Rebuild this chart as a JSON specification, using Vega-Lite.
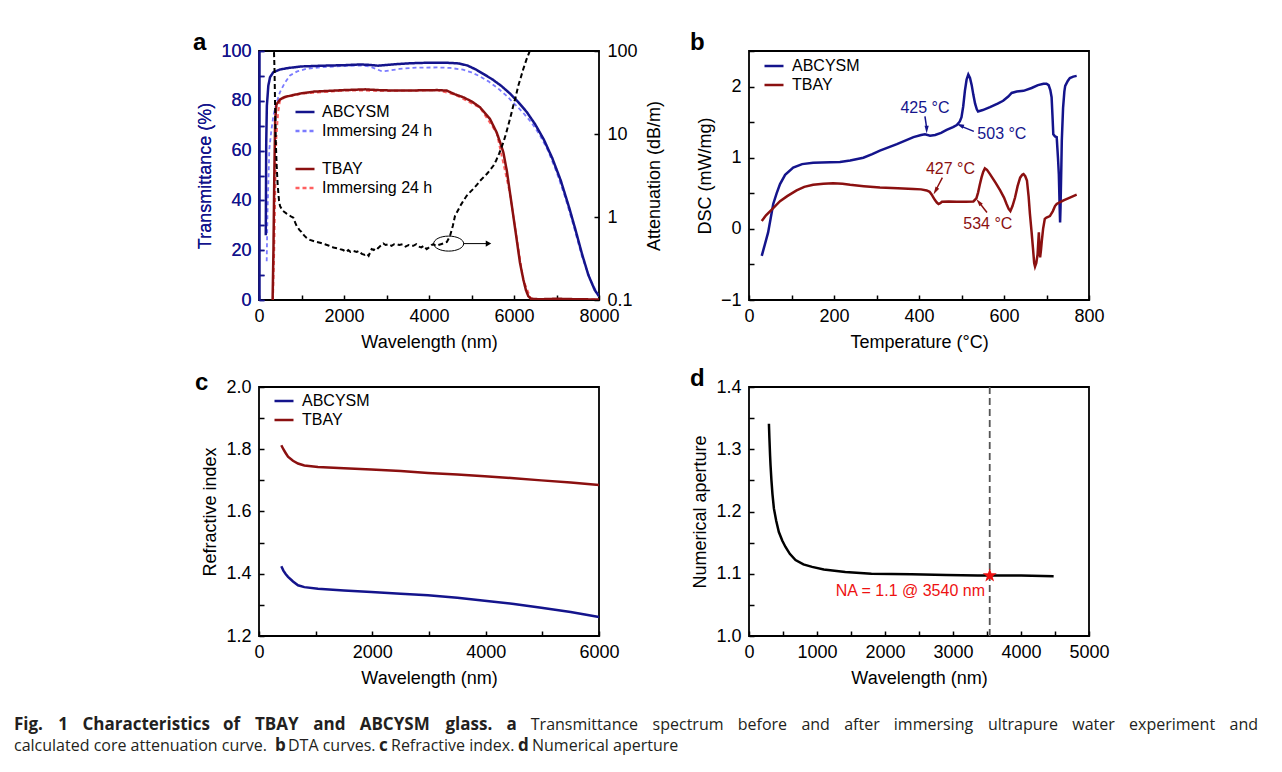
{
"$schema": "https://vega.github.io/schema/vega-lite/v6.json",
"padding": {"left": 14, "top": 30, "right": 5, "bottom": 5},
"background": "white",
"config": {
  "font": "Liberation Sans",
  "view": {"stroke": "black", "strokeWidth": 1.8},
  "axis": {"grid": false, "domain": false, "ticks": true, "tickSize": -5, "tickWidth": 1.5, "tickColor": "black", "labelFlush": false, "labelOverlap": false, "labelFont": "Liberation Sans", "labelFontSize": 18, "labelColor": "black", "titleFont": "Liberation Sans", "titleFontSize": 18, "titleFontWeight": "normal", "titleColor": "black", "titlePadding": 6},
  "axisX": {"labelPadding": 12, "titlePadding": 8},
  "axisY": {"labelPadding": 13},
  "legend": {"orient": "none", "symbolType": "stroke", "symbolSize": 361, "symbolStrokeWidth": 2.5, "labelFont": "Liberation Sans", "labelFontSize": 16, "labelColor": "black", "rowPadding": 0, "padding": 0, "labelOffset": 7},
  "title": {"font": "Liberation Sans", "fontSize": 24, "fontWeight": "bold", "anchor": "start", "frame": "group", "baseline": "alphabetic", "color": "black"},
  "line": {"strokeWidth": 2.5, "strokeCap": "butt"},
  "text": {"font": "Liberation Sans", "fontSize": 16}
},
"columns": 2,
"spacing": {"row": 87, "column": 150},
"bounds": "flush",
"resolve": {"scale": {"color": "independent", "strokeDash": "independent", "shape": "independent"}, "legend": {"color": "independent", "strokeDash": "independent", "shape": "independent"}},
"concat": [
 {
  "width": 340, "height": 249,
  "title": {"text": "a", "dx": -66, "offset": -13},
  "encoding": {"x": {"field": "w", "type": "quantitative", "scale": {"domain": [0, 8000], "nice": false, "zero": false}, "axis": {"title": "Wavelength (nm)", "values": [0,1000,2000,3000,4000,5000,6000,7000,8000], "format": "d", "labelExpr": "datum.value % 2000 == 0 ? datum.label : ''"}}},
  "layer": [
   {
    "data": {"values": [
{"s":"ABCYSM-i","w":181,"t":15.6},{"s":"ABCYSM-i","w":200,"t":35},{"s":"ABCYSM-i","w":243,"t":60.6},{"s":"ABCYSM-i","w":290,"t":68},{"s":"ABCYSM-i","w":338,"t":74},{"s":"ABCYSM-i","w":400,"t":78.5},{"s":"ABCYSM-i","w":494,"t":83.5},{"s":"ABCYSM-i","w":600,"t":87},{"s":"ABCYSM-i","w":729,"t":90.2},{"s":"ABCYSM-i","w":900,"t":91.8},{"s":"ABCYSM-i","w":1122,"t":92.9},{"s":"ABCYSM-i","w":1500,"t":93.5},{"s":"ABCYSM-i","w":2000,"t":94},{"s":"ABCYSM-i","w":2400,"t":94.2},{"s":"ABCYSM-i","w":2600,"t":93.8},{"s":"ABCYSM-i","w":2750,"t":92.8},{"s":"ABCYSM-i","w":2900,"t":91.8},{"s":"ABCYSM-i","w":3050,"t":92.1},{"s":"ABCYSM-i","w":3300,"t":92.8},{"s":"ABCYSM-i","w":3700,"t":93.3},{"s":"ABCYSM-i","w":4200,"t":93.4},{"s":"ABCYSM-i","w":4500,"t":93.2},{"s":"ABCYSM-i","w":4800,"t":92.5},{"s":"ABCYSM-i","w":5000,"t":91.4},{"s":"ABCYSM-i","w":5200,"t":89.8},{"s":"ABCYSM-i","w":5400,"t":87.8},{"s":"ABCYSM-i","w":5600,"t":85.3},{"s":"ABCYSM-i","w":5800,"t":82.4},{"s":"ABCYSM-i","w":6000,"t":79},{"s":"ABCYSM-i","w":6200,"t":75.5},{"s":"ABCYSM-i","w":6400,"t":71.5},{"s":"ABCYSM-i","w":6600,"t":66.5},{"s":"ABCYSM-i","w":6800,"t":60},{"s":"ABCYSM-i","w":7000,"t":51.5},{"s":"ABCYSM-i","w":7200,"t":41.5},{"s":"ABCYSM-i","w":7400,"t":30},{"s":"ABCYSM-i","w":7600,"t":17.5},{"s":"ABCYSM-i","w":7800,"t":8},{"s":"ABCYSM-i","w":7950,"t":3},{"s":"ABCYSM-i","w":8000,"t":1.5},
{"s":"TBAY-i","w":330,"t":0},{"s":"TBAY-i","w":360,"t":20},{"s":"TBAY-i","w":390,"t":50},{"s":"TBAY-i","w":410,"t":65},{"s":"TBAY-i","w":450,"t":75},{"s":"TBAY-i","w":494,"t":80},{"s":"TBAY-i","w":600,"t":81.3},{"s":"TBAY-i","w":1000,"t":82.8},{"s":"TBAY-i","w":2000,"t":84.1},{"s":"TBAY-i","w":3000,"t":84},{"s":"TBAY-i","w":4200,"t":84.2},{"s":"TBAY-i","w":4600,"t":82.5},{"s":"TBAY-i","w":5200,"t":77.2},{"s":"TBAY-i","w":5592,"t":67},{"s":"TBAY-i","w":5906,"t":42.5},{"s":"TBAY-i","w":6220,"t":8},{"s":"TBAY-i","w":6400,"t":0.5},{"s":"TBAY-i","w":8000,"t":0.2}
    ]},
    "mark": {"type": "line", "strokeWidth": 1.8, "clip": true},
    "encoding": {
      "y": {"field": "t", "type": "quantitative", "scale": {"domain": [0, 100], "nice": false}, "axis": {"orient": "left", "title": "Transmittance (%)", "values": [0,10,20,30,40,50,60,70,80,90,100], "format": "d", "labelExpr": "datum.value % 20 == 0 ? datum.label : ''", "labelColor": "#14148c", "tickColor": "#14148c", "titleColor": "#14148c", "domain": true, "domainColor": "#14148c", "domainWidth": 2, "zindex": 1}},
      "color": {"field": "s", "type": "nominal", "scale": {"domain": ["ABCYSM", "ABCYSM-i", "gap", "TBAY", "TBAY-i"], "range": ["#14148c", "#7b7bff", "transparent", "#8b1010", "#ff6060"]}, "legend": {"title": null, "legendX": 35, "legendY": 50, "labelOffset": 6, "labelExpr": "datum.value == 'gap' ? '' : (datum.value == 'ABCYSM-i' || datum.value == 'TBAY-i') ? 'Immersing 24 h' : datum.value", "encode": {"labels": {"update": {"fill": {"signal": "datum.value == 'ABCYSM' ? '#14148c' : datum.value == 'ABCYSM-i' ? '#7b7bff' : datum.value == 'TBAY' ? '#8b1010' : '#ff6060'"}}}, "symbols": {"update": {"strokeDash": {"signal": "(datum.value == 'ABCYSM-i' || datum.value == 'TBAY-i') ? [4, 3] : [1, 0]"}}}}}},
      "strokeDash": {"field": "s", "type": "nominal", "scale": {"domain": ["ABCYSM", "ABCYSM-i", "gap", "TBAY", "TBAY-i"], "range": [[1, 0], [4, 3], [1, 0], [1, 0], [4, 3]]}, "legend": null}
    }
   },
   {
    "data": {"values": [
{"s":"ABCYSM","w":160,"t":26},{"s":"ABCYSM","w":165,"t":45},{"s":"ABCYSM","w":170,"t":63},{"s":"ABCYSM","w":185,"t":78},{"s":"ABCYSM","w":219,"t":86},{"s":"ABCYSM","w":260,"t":89.5},{"s":"ABCYSM","w":338,"t":91.5},{"s":"ABCYSM","w":500,"t":92.6},{"s":"ABCYSM","w":700,"t":93.2},{"s":"ABCYSM","w":1000,"t":93.8},{"s":"ABCYSM","w":1500,"t":94.1},{"s":"ABCYSM","w":2000,"t":94.3},{"s":"ABCYSM","w":2400,"t":94.6},{"s":"ABCYSM","w":2600,"t":94.4},{"s":"ABCYSM","w":2800,"t":94.1},{"s":"ABCYSM","w":3000,"t":94.4},{"s":"ABCYSM","w":3300,"t":94.8},{"s":"ABCYSM","w":3600,"t":95.1},{"s":"ABCYSM","w":4000,"t":95.3},{"s":"ABCYSM","w":4400,"t":95.3},{"s":"ABCYSM","w":4700,"t":95},{"s":"ABCYSM","w":4900,"t":94.2},{"s":"ABCYSM","w":5100,"t":92.6},{"s":"ABCYSM","w":5300,"t":90.6},{"s":"ABCYSM","w":5500,"t":88.5},{"s":"ABCYSM","w":5700,"t":86},{"s":"ABCYSM","w":5900,"t":83},{"s":"ABCYSM","w":6100,"t":79.5},{"s":"ABCYSM","w":6300,"t":75.5},{"s":"ABCYSM","w":6500,"t":70.5},{"s":"ABCYSM","w":6700,"t":64.5},{"s":"ABCYSM","w":6900,"t":57},{"s":"ABCYSM","w":7100,"t":48},{"s":"ABCYSM","w":7300,"t":37},{"s":"ABCYSM","w":7450,"t":28},{"s":"ABCYSM","w":7600,"t":18.5},{"s":"ABCYSM","w":7750,"t":10},{"s":"ABCYSM","w":7900,"t":4},{"s":"ABCYSM","w":8000,"t":1.5},
{"s":"TBAY","w":320,"t":0},{"s":"TBAY","w":340,"t":20},{"s":"TBAY","w":360,"t":50},{"s":"TBAY","w":380,"t":72},{"s":"TBAY","w":410,"t":78.5},{"s":"TBAY","w":494,"t":80.5},{"s":"TBAY","w":600,"t":81.5},{"s":"TBAY","w":800,"t":82.3},{"s":"TBAY","w":1000,"t":83},{"s":"TBAY","w":1300,"t":83.7},{"s":"TBAY","w":2000,"t":84.3},{"s":"TBAY","w":2500,"t":84.6},{"s":"TBAY","w":2800,"t":84.3},{"s":"TBAY","w":3200,"t":84.1},{"s":"TBAY","w":3800,"t":84.2},{"s":"TBAY","w":4200,"t":84.3},{"s":"TBAY","w":4416,"t":84.1},{"s":"TBAY","w":4600,"t":82.7},{"s":"TBAY","w":4808,"t":81.4},{"s":"TBAY","w":5000,"t":79.8},{"s":"TBAY","w":5200,"t":77.4},{"s":"TBAY","w":5435,"t":72.7},{"s":"TBAY","w":5592,"t":67.3},{"s":"TBAY","w":5680,"t":63},{"s":"TBAY","w":5749,"t":59.3},{"s":"TBAY","w":5830,"t":52},{"s":"TBAY","w":5906,"t":43},{"s":"TBAY","w":5990,"t":33},{"s":"TBAY","w":6063,"t":24.3},{"s":"TBAY","w":6140,"t":15},{"s":"TBAY","w":6220,"t":8.2},{"s":"TBAY","w":6280,"t":4},{"s":"TBAY","w":6337,"t":1.5},{"s":"TBAY","w":6400,"t":0.5},{"s":"TBAY","w":6600,"t":0.3},{"s":"TBAY","w":7000,"t":0.5},{"s":"TBAY","w":7500,"t":0.3},{"s":"TBAY","w":8000,"t":0.2}
    ]},
    "mark": {"type": "line", "strokeWidth": 2.5, "clip": true},
    "encoding": {
      "y": {"field": "t", "type": "quantitative", "scale": {"domain": [0, 100], "nice": false}, "axis": {"orient": "left", "title": "Transmittance (%)", "values": [0,10,20,30,40,50,60,70,80,90,100], "format": "d", "labelExpr": "datum.value % 20 == 0 ? datum.label : ''", "labelColor": "#14148c", "tickColor": "#14148c", "titleColor": "#14148c", "domain": true, "domainColor": "#14148c", "domainWidth": 2, "zindex": 1}},
      "color": {"field": "s", "type": "nominal", "scale": {"domain": ["ABCYSM", "ABCYSM-i", "gap", "TBAY", "TBAY-i"], "range": ["#14148c", "#7b7bff", "transparent", "#8b1010", "#ff6060"]}, "legend": null},
      "strokeDash": {"field": "s", "type": "nominal", "scale": {"domain": ["ABCYSM", "ABCYSM-i", "gap", "TBAY", "TBAY-i"], "range": [[1, 0], [4, 3], [1, 0], [1, 0], [4, 3]]}, "legend": null}
    }
   },
   {
    "encoding": {"y": {"field": "a", "type": "quantitative", "scale": {"type": "log", "domain": [0.1, 100], "nice": false}, "axis": {"orient": "right", "title": "Attenuation (dB/m)", "titleAngle": 270, "titleBaseline": "top", "titlePadding": 8, "values": [0.1, 1, 10, 100], "format": "~g"}}},
    "layer": [
     {
      "data": {"values": [
{"w":353,"a":97},{"w":365,"a":60},{"w":380,"a":20},{"w":395,"a":8},{"w":416,"a":4.14},{"w":440,"a":2.4},{"w":470,"a":1.6},{"w":494,"a":1.36},{"w":550,"a":1.2},{"w":650,"a":1.1},{"w":750,"a":1.02},{"w":808,"a":0.98},{"w":850,"a":0.86},{"w":886,"a":0.78},{"w":950,"a":0.7},{"w":1000,"a":0.66},{"w":1060,"a":0.6},{"w":1122,"a":0.56},{"w":1200,"a":0.53},{"w":1300,"a":0.51},{"w":1435,"a":0.49},{"w":1550,"a":0.47},{"w":1650,"a":0.45},{"w":1750,"a":0.43},{"w":1850,"a":0.42},{"w":1906,"a":0.41},{"w":1980,"a":0.4},{"w":2050,"a":0.38},{"w":2100,"a":0.4},{"w":2150,"a":0.38},{"w":2220,"a":0.39},{"w":2300,"a":0.38},{"w":2350,"a":0.39},{"w":2420,"a":0.36},{"w":2494,"a":0.35},{"w":2540,"a":0.36},{"w":2580,"a":0.34},{"w":2620,"a":0.38},{"w":2651,"a":0.41},{"w":2700,"a":0.4},{"w":2760,"a":0.43},{"w":2800,"a":0.42},{"w":2860,"a":0.45},{"w":2925,"a":0.48},{"w":2980,"a":0.46},{"w":3050,"a":0.47},{"w":3120,"a":0.45},{"w":3180,"a":0.47},{"w":3240,"a":0.47},{"w":3300,"a":0.46},{"w":3380,"a":0.47},{"w":3450,"a":0.44},{"w":3520,"a":0.46},{"w":3580,"a":0.45},{"w":3631,"a":0.45},{"w":3700,"a":0.47},{"w":3760,"a":0.44},{"w":3820,"a":0.43},{"w":3880,"a":0.45},{"w":3945,"a":0.41},{"w":4000,"a":0.43},{"w":4060,"a":0.46},{"w":4102,"a":0.47},{"w":4160,"a":0.45},{"w":4220,"a":0.46},{"w":4280,"a":0.47},{"w":4337,"a":0.48},{"w":4420,"a":0.5},{"w":4494,"a":0.59},{"w":4560,"a":0.78},{"w":4612,"a":1.03},{"w":4680,"a":1.2},{"w":4750,"a":1.4},{"w":4820,"a":1.6},{"w":4886,"a":1.8},{"w":4960,"a":1.98},{"w":5050,"a":2.2},{"w":5130,"a":2.45},{"w":5200,"a":2.72},{"w":5280,"a":3.0},{"w":5360,"a":3.3},{"w":5440,"a":3.7},{"w":5514,"a":4.14},{"w":5580,"a":4.8},{"w":5650,"a":5.8},{"w":5700,"a":6.8},{"w":5749,"a":7.9},{"w":5810,"a":10},{"w":5870,"a":13},{"w":5930,"a":17},{"w":5984,"a":22},{"w":6040,"a":28},{"w":6100,"a":38},{"w":6160,"a":48},{"w":6220,"a":61},{"w":6290,"a":78},{"w":6361,"a":97},{"w":6420,"a":130}
      ]},
      "mark": {"type": "line", "color": "black", "strokeWidth": 2, "strokeDash": [5, 3], "clip": true}
     },
     {
      "data": {"values": [{"w": 4463, "a": 0.478}]},
      "mark": {"type": "point", "shape": "M-1,0A1,0.5 0 1,0 1,0A1,0.5 0 1,0 -1,0Z", "size": 900, "filled": false, "color": "black", "strokeWidth": 1, "opacity": 1}
     },
     {
      "data": {"values": [{"w": 4808, "w2": 5380, "a": 0.478}]},
      "mark": {"type": "rule", "color": "black", "strokeWidth": 1},
      "encoding": {"x2": {"field": "w2"}}
     },
     {
      "data": {"values": [{"w": 5400, "a": 0.478}]},
      "mark": {"type": "point", "shape": "triangle-right", "size": 40, "filled": true, "color": "black", "opacity": 1}
     }
    ]
   }
  ],
  "resolve": {"scale": {"y": "independent"}, "axis": {"y": "independent"}}
 },
 {
  "width": 340, "height": 249,
  "title": {"text": "b", "dx": -59, "offset": -13},
  "encoding": {
    "x": {"field": "T", "type": "quantitative", "scale": {"domain": [0, 800], "nice": false, "zero": false}, "axis": {"title": "Temperature (°C)", "values": [0,100,200,300,400,500,600,700,800], "format": "d", "labelExpr": "datum.value % 200 == 0 ? datum.label : ''"}},
    "y": {"field": "v", "type": "quantitative", "scale": {"domain": [-1, 2.5], "nice": false}, "axis": {"title": "DSC (mW/mg)", "values": [-1,-0.5,0,0.5,1,1.5,2,2.5], "format": ".0f", "labelExpr": "round(datum.value*2) % 2 == 0 ? datum.label : ''"}}
  },
  "layer": [
   {
    "data": {"values": [
{"s":"ABCYSM","T":30,"v":-0.38},{"s":"ABCYSM","T":45,"v":-0.05},{"s":"ABCYSM","T":57,"v":0.35},{"s":"ABCYSM","T":65,"v":0.5},{"s":"ABCYSM","T":73,"v":0.63},{"s":"ABCYSM","T":85,"v":0.76},{"s":"ABCYSM","T":104,"v":0.86},{"s":"ABCYSM","T":125,"v":0.91},{"s":"ABCYSM","T":151,"v":0.93},{"s":"ABCYSM","T":191,"v":0.935},{"s":"ABCYSM","T":214,"v":0.94},{"s":"ABCYSM","T":238,"v":0.96},{"s":"ABCYSM","T":269,"v":1.0},{"s":"ABCYSM","T":290,"v":1.05},{"s":"ABCYSM","T":308,"v":1.1},{"s":"ABCYSM","T":348,"v":1.19},{"s":"ABCYSM","T":387,"v":1.29},{"s":"ABCYSM","T":405,"v":1.32},{"s":"ABCYSM","T":414,"v":1.33},{"s":"ABCYSM","T":426,"v":1.31},{"s":"ABCYSM","T":438,"v":1.32},{"s":"ABCYSM","T":452,"v":1.35},{"s":"ABCYSM","T":465,"v":1.39},{"s":"ABCYSM","T":480,"v":1.43},{"s":"ABCYSM","T":489,"v":1.46},{"s":"ABCYSM","T":496,"v":1.51},{"s":"ABCYSM","T":500,"v":1.57},{"s":"ABCYSM","T":504,"v":1.72},{"s":"ABCYSM","T":508,"v":1.94},{"s":"ABCYSM","T":512,"v":2.1},{"s":"ABCYSM","T":516,"v":2.17},{"s":"ABCYSM","T":520,"v":2.12},{"s":"ABCYSM","T":524,"v":2.02},{"s":"ABCYSM","T":528,"v":1.88},{"s":"ABCYSM","T":532,"v":1.76},{"s":"ABCYSM","T":536,"v":1.68},{"s":"ABCYSM","T":539,"v":1.65},{"s":"ABCYSM","T":550,"v":1.67},{"s":"ABCYSM","T":567,"v":1.71},{"s":"ABCYSM","T":585,"v":1.76},{"s":"ABCYSM","T":598,"v":1.8},{"s":"ABCYSM","T":610,"v":1.86},{"s":"ABCYSM","T":618,"v":1.91},{"s":"ABCYSM","T":630,"v":1.93},{"s":"ABCYSM","T":646,"v":1.94},{"s":"ABCYSM","T":665,"v":1.98},{"s":"ABCYSM","T":680,"v":2.02},{"s":"ABCYSM","T":693,"v":2.04},{"s":"ABCYSM","T":700,"v":2.04},{"s":"ABCYSM","T":705,"v":2.02},{"s":"ABCYSM","T":709,"v":1.95},{"s":"ABCYSM","T":712,"v":1.85},{"s":"ABCYSM","T":714,"v":1.6},{"s":"ABCYSM","T":716,"v":1.33},{"s":"ABCYSM","T":720,"v":1.3},{"s":"ABCYSM","T":724,"v":1.29},{"s":"ABCYSM","T":727,"v":1.0},{"s":"ABCYSM","T":729,"v":0.77},{"s":"ABCYSM","T":731,"v":0.3},{"s":"ABCYSM","T":732,"v":0.09},{"s":"ABCYSM","T":733,"v":0.3},{"s":"ABCYSM","T":735,"v":0.9},{"s":"ABCYSM","T":736,"v":1.24},{"s":"ABCYSM","T":739,"v":1.7},{"s":"ABCYSM","T":742,"v":1.93},{"s":"ABCYSM","T":744,"v":2.01},{"s":"ABCYSM","T":750,"v":2.08},{"s":"ABCYSM","T":755,"v":2.12},{"s":"ABCYSM","T":763,"v":2.14},{"s":"ABCYSM","T":771,"v":2.15},
{"s":"TBAY","T":30,"v":0.11},{"s":"TBAY","T":40,"v":0.19},{"s":"TBAY","T":50,"v":0.25},{"s":"TBAY","T":73,"v":0.39},{"s":"TBAY","T":90,"v":0.46},{"s":"TBAY","T":112,"v":0.54},{"s":"TBAY","T":130,"v":0.59},{"s":"TBAY","T":151,"v":0.62},{"s":"TBAY","T":175,"v":0.635},{"s":"TBAY","T":198,"v":0.64},{"s":"TBAY","T":220,"v":0.635},{"s":"TBAY","T":238,"v":0.62},{"s":"TBAY","T":270,"v":0.6},{"s":"TBAY","T":308,"v":0.58},{"s":"TBAY","T":350,"v":0.57},{"s":"TBAY","T":387,"v":0.56},{"s":"TBAY","T":405,"v":0.555},{"s":"TBAY","T":418,"v":0.54},{"s":"TBAY","T":425,"v":0.52},{"s":"TBAY","T":430,"v":0.48},{"s":"TBAY","T":434,"v":0.44},{"s":"TBAY","T":438,"v":0.4},{"s":"TBAY","T":442,"v":0.37},{"s":"TBAY","T":446,"v":0.35},{"s":"TBAY","T":450,"v":0.36},{"s":"TBAY","T":454,"v":0.38},{"s":"TBAY","T":470,"v":0.385},{"s":"TBAY","T":489,"v":0.38},{"s":"TBAY","T":510,"v":0.38},{"s":"TBAY","T":528,"v":0.385},{"s":"TBAY","T":535,"v":0.43},{"s":"TBAY","T":539,"v":0.51},{"s":"TBAY","T":543,"v":0.62},{"s":"TBAY","T":547,"v":0.72},{"s":"TBAY","T":551,"v":0.8},{"s":"TBAY","T":555,"v":0.85},{"s":"TBAY","T":560,"v":0.83},{"s":"TBAY","T":567,"v":0.77},{"s":"TBAY","T":580,"v":0.65},{"s":"TBAY","T":591,"v":0.54},{"s":"TBAY","T":600,"v":0.44},{"s":"TBAY","T":606,"v":0.35},{"s":"TBAY","T":611,"v":0.28},{"s":"TBAY","T":615,"v":0.25},{"s":"TBAY","T":620,"v":0.32},{"s":"TBAY","T":626,"v":0.44},{"s":"TBAY","T":632,"v":0.6},{"s":"TBAY","T":638,"v":0.72},{"s":"TBAY","T":643,"v":0.76},{"s":"TBAY","T":646,"v":0.77},{"s":"TBAY","T":650,"v":0.74},{"s":"TBAY","T":654,"v":0.68},{"s":"TBAY","T":658,"v":0.45},{"s":"TBAY","T":661,"v":0.21},{"s":"TBAY","T":665,"v":-0.05},{"s":"TBAY","T":668,"v":-0.26},{"s":"TBAY","T":671,"v":-0.48},{"s":"TBAY","T":673,"v":-0.53},{"s":"TBAY","T":676,"v":-0.48},{"s":"TBAY","T":679,"v":-0.36},{"s":"TBAY","T":681,"v":-0.15},{"s":"TBAY","T":682,"v":-0.05},{"s":"TBAY","T":683,"v":-0.2},{"s":"TBAY","T":685,"v":-0.4},{"s":"TBAY","T":687,"v":-0.3},{"s":"TBAY","T":689,"v":-0.17},{"s":"TBAY","T":692,"v":0.0},{"s":"TBAY","T":696,"v":0.14},{"s":"TBAY","T":700,"v":0.16},{"s":"TBAY","T":708,"v":0.18},{"s":"TBAY","T":715,"v":0.25},{"s":"TBAY","T":720,"v":0.32},{"s":"TBAY","T":724,"v":0.35},{"s":"TBAY","T":730,"v":0.37},{"s":"TBAY","T":740,"v":0.4},{"s":"TBAY","T":755,"v":0.44},{"s":"TBAY","T":771,"v":0.48}
    ]},
    "mark": {"type": "line", "strokeWidth": 2.5},
    "encoding": {"color": {"field": "s", "type": "nominal", "scale": {"domain": ["ABCYSM", "TBAY"], "range": ["#14148c", "#8b1010"]}, "legend": {"title": null, "legendX": 14, "legendY": 4}}}
   },
   {
    "data": {"values": [
      {"s": "ABCYSM", "txt": "425 °C", "T": 414, "v": 1.7},
      {"s": "ABCYSM", "txt": "503 °C", "T": 595, "v": 1.33},
      {"s": "TBAY", "txt": "427 °C", "T": 474, "v": 0.84},
      {"s": "TBAY", "txt": "534 °C", "T": 562, "v": 0.07}
    ]},
    "mark": {"type": "text", "fontSize": 16, "align": "center", "baseline": "middle"},
    "encoding": {"text": {"field": "txt"}, "color": {"field": "s", "type": "nominal", "legend": null}}
   },
   {
    "data": {"values": [
      {"s": "ABCYSM", "id": "a425", "T": 414, "v": 1.58, "T2": 418, "v2": 1.42},
      {"s": "ABCYSM", "id": "a503", "T": 529, "v": 1.37, "T2": 500, "v2": 1.44},
      {"s": "TBAY", "id": "a427", "T": 455, "v": 0.72, "T2": 441, "v2": 0.56},
      {"s": "TBAY", "id": "a534", "T": 560, "v": 0.23, "T2": 543, "v2": 0.36}
    ]},
    "mark": {"type": "rule", "strokeWidth": 1.5},
    "encoding": {"x2": {"field": "T2"}, "y2": {"field": "v2"}, "color": {"field": "s", "type": "nominal", "legend": null}}
   },
   {
    "data": {"values": [
      {"s": "ABCYSM", "id": "a425", "T": 418, "v": 1.40},
      {"s": "ABCYSM", "id": "a503", "T": 497, "v": 1.455},
      {"s": "TBAY", "id": "a427", "T": 439, "v": 0.535},
      {"s": "TBAY", "id": "a534", "T": 541, "v": 0.375}
    ]},
    "mark": {"type": "point", "filled": true, "size": 70, "opacity": 1},
    "encoding": {"color": {"field": "s", "type": "nominal", "legend": null}, "shape": {"field": "id", "type": "nominal", "scale": {"domain": ["a425", "a503", "a427", "a534"], "range": ["M0,1L-0.5,-0.866L0.5,-0.866Z", "M-0.927,-0.375L0.990,-0.139L0.616,0.788Z", "M-0.5,0.866L0,-1L0.866,-0.5Z", "M-0.616,-0.788L0.927,0.375L0.139,0.990Z"]}, "legend": null}}
   }
  ]
 },
 {
  "width": 340, "height": 249,
  "title": {"text": "c", "dx": -64, "offset": -17},
  "data": {"values": [
{"s":"ABCYSM","w":394,"n":1.424},{"s":"ABCYSM","w":430,"n":1.41},{"s":"ABCYSM","w":470,"n":1.399},{"s":"ABCYSM","w":512,"n":1.39},{"s":"ABCYSM","w":600,"n":1.375},{"s":"ABCYSM","w":688,"n":1.363},{"s":"ABCYSM","w":800,"n":1.357},{"s":"ABCYSM","w":1041,"n":1.352},{"s":"ABCYSM","w":1500,"n":1.346},{"s":"ABCYSM","w":1982,"n":1.341},{"s":"ABCYSM","w":2500,"n":1.336},{"s":"ABCYSM","w":2982,"n":1.331},{"s":"ABCYSM","w":3500,"n":1.323},{"s":"ABCYSM","w":3982,"n":1.313},{"s":"ABCYSM","w":4500,"n":1.303},{"s":"ABCYSM","w":4982,"n":1.291},{"s":"ABCYSM","w":5500,"n":1.277},{"s":"ABCYSM","w":6000,"n":1.261},
{"s":"TBAY","w":394,"n":1.813},{"s":"TBAY","w":430,"n":1.8},{"s":"TBAY","w":470,"n":1.788},{"s":"TBAY","w":512,"n":1.776},{"s":"TBAY","w":600,"n":1.763},{"s":"TBAY","w":688,"n":1.754},{"s":"TBAY","w":800,"n":1.748},{"s":"TBAY","w":1041,"n":1.743},{"s":"TBAY","w":1500,"n":1.739},{"s":"TBAY","w":1982,"n":1.735},{"s":"TBAY","w":2500,"n":1.73},{"s":"TBAY","w":2982,"n":1.724},{"s":"TBAY","w":3500,"n":1.719},{"s":"TBAY","w":3982,"n":1.713},{"s":"TBAY","w":4500,"n":1.707},{"s":"TBAY","w":4982,"n":1.7},{"s":"TBAY","w":5500,"n":1.693},{"s":"TBAY","w":6000,"n":1.685}
  ]},
  "mark": {"type": "line", "strokeWidth": 2.5},
  "encoding": {
    "x": {"field": "w", "type": "quantitative", "scale": {"domain": [0, 6000], "nice": false, "zero": false}, "axis": {"title": "Wavelength (nm)", "values": [0,1000,2000,3000,4000,5000,6000], "format": "d", "labelExpr": "datum.value % 2000 == 0 ? datum.label : ''"}},
    "y": {"field": "n", "type": "quantitative", "scale": {"domain": [1.2, 2.0], "nice": false, "zero": false}, "axis": {"title": "Refractive index", "values": [1.2,1.3,1.4,1.5,1.6,1.7,1.8,1.9,2.0], "format": ".1f", "labelExpr": "round(datum.value*10) % 2 == 0 ? datum.label : ''"}},
    "color": {"field": "s", "type": "nominal", "scale": {"domain": ["ABCYSM", "TBAY"], "range": ["#14148c", "#8b1010"]}, "legend": {"title": null, "legendX": 14, "legendY": 3}}
  }
 },
 {
  "width": 340, "height": 249,
  "title": {"text": "d", "dx": -59, "offset": -13},
  "encoding": {
    "x": {"field": "w", "type": "quantitative", "scale": {"domain": [0, 5000], "nice": false, "zero": false}, "axis": {"title": "Wavelength (nm)", "values": [0,500,1000,1500,2000,2500,3000,3500,4000,4500,5000], "format": "d", "labelExpr": "datum.value % 1000 == 0 ? datum.label : ''"}},
    "y": {"field": "na", "type": "quantitative", "scale": {"domain": [1.0, 1.4], "nice": false, "zero": false}, "axis": {"title": "Numerical aperture", "values": [1.0,1.05,1.1,1.15,1.2,1.25,1.3,1.35,1.4], "format": ".1f", "labelExpr": "round(datum.value*100) % 10 == 0 ? datum.label : ''"}}
  },
  "layer": [
   {
    "data": {"values": [{"w": 3540}]},
    "mark": {"type": "rule", "color": "#555555", "strokeWidth": 1.8, "strokeDash": [7, 4]},
    "encoding": {"y": null}
   },
   {
    "data": {"values": [
{"w":293,"na":1.341},{"w":300,"na":1.318},{"w":310,"na":1.29},{"w":317,"na":1.274},{"w":330,"na":1.25},{"w":345,"na":1.228},{"w":366,"na":1.205},{"w":400,"na":1.185},{"w":439,"na":1.167},{"w":490,"na":1.153},{"w":537,"na":1.143},{"w":600,"na":1.132},{"w":684,"na":1.122},{"w":800,"na":1.115},{"w":928,"na":1.111},{"w":1100,"na":1.107},{"w":1416,"na":1.103},{"w":1800,"na":1.1},{"w":2391,"na":1.099},{"w":2900,"na":1.098},{"w":3367,"na":1.097},{"w":3540,"na":1.097},{"w":4000,"na":1.097},{"w":4480,"na":1.096}
    ]},
    "mark": {"type": "line", "color": "black", "strokeWidth": 2.5}
   },
   {
    "data": {"values": [{"w": 3540, "na": 1.097}]},
    "mark": {"type": "point", "shape": "M0,-1L0.235,-0.324L0.951,-0.309L0.38,0.124L0.588,0.809L0,0.4L-0.588,0.809L-0.38,0.124L-0.951,-0.309L-0.235,-0.324Z", "size": 220, "filled": true, "color": "#ee1111", "opacity": 1}
   },
   {
    "data": {"values": [{"w": 3470, "na": 1.072, "txt": "NA = 1.1 @ 3540 nm"}]},
    "mark": {"type": "text", "align": "right", "baseline": "middle", "fontSize": 16, "color": "#ee1111"},
    "encoding": {"text": {"field": "txt"}}
   }
  ]
 },
 {
  "width": 340, "height": 28,
  "view": {"stroke": null},
  "data": {"values": [
    {"line": 1, "pos": 2, "b": true, "txt": "Fig."},
    {"line": 1, "pos": 46.2, "b": true, "txt": "1"},
    {"line": 1, "pos": 70.4, "b": true, "txt": "Characteristics"},
    {"line": 1, "pos": 211, "b": true, "txt": "of"},
    {"line": 1, "pos": 242.9, "b": true, "txt": "TBAY"},
    {"line": 1, "pos": 301.2, "b": true, "txt": "and"},
    {"line": 1, "pos": 347.7, "b": true, "txt": "ABCYSM"},
    {"line": 1, "pos": 433.5, "b": true, "txt": "glass."},
    {"line": 1, "pos": 494.6, "b": true, "txt": "a"},
    {"line": 1, "pos": 518.8, "b": false, "txt": "Transmittance"},
    {"line": 1, "pos": 640.6, "b": false, "txt": "spectrum"},
    {"line": 1, "pos": 725.8, "b": false, "txt": "before"},
    {"line": 1, "pos": 789.4, "b": false, "txt": "and"},
    {"line": 1, "pos": 832.2, "b": false, "txt": "after"},
    {"line": 1, "pos": 881.8, "b": false, "txt": "immersing"},
    {"line": 1, "pos": 975.9, "b": false, "txt": "ultrapure"},
    {"line": 1, "pos": 1060.3, "b": false, "txt": "water"},
    {"line": 1, "pos": 1117.1, "b": false, "txt": "experiment"},
    {"line": 1, "pos": 1217.5, "b": false, "txt": "and"},
    {"line": 2, "pos": 2, "b": false, "txt": "calculated core attenuation curve."},
    {"line": 2, "pos": 263, "b": true, "txt": "b"},
    {"line": 2, "pos": 276, "b": false, "txt": "DTA curves."},
    {"line": 2, "pos": 367, "b": true, "txt": "c"},
    {"line": 2, "pos": 379, "b": false, "txt": "Refractive index."},
    {"line": 2, "pos": 506, "b": true, "txt": "d"},
    {"line": 2, "pos": 520, "b": false, "txt": "Numerical aperture"}
  ]},
  "encoding": {
    "x": {"field": "pos", "type": "quantitative", "scale": {"domain": [247, 587], "nice": false, "zero": false}, "axis": null},
    "y": {"field": "line", "type": "quantitative", "scale": {"domain": [0.6667, 2], "reverse": true, "nice": false, "zero": false}, "axis": null},
    "text": {"field": "txt"}
  },
  "layer": [
    {"transform": [{"filter": "datum.b"}], "mark": {"type": "text", "align": "left", "baseline": "alphabetic", "font": "Open Sans", "fontSize": 17, "fontWeight": "bold", "color": "#231f20"}},
    {"transform": [{"filter": "!datum.b"}], "mark": {"type": "text", "align": "left", "baseline": "alphabetic", "font": "Open Sans", "fontSize": 16, "color": "#231f20"}}
  ]
 }
]
}
